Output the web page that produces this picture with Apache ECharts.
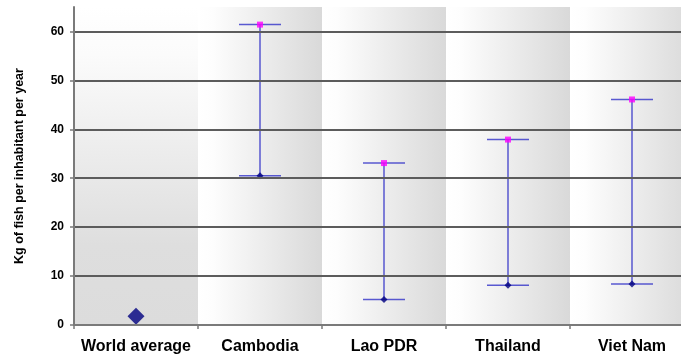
<!DOCTYPE html>
<html>
<head>
<meta charset="utf-8">
<script src="https://cdn.jsdelivr.net/npm/echarts@6/dist/echarts.min.js"></script>
<style>
  html, body { margin: 0; padding: 0; background: #ffffff; overflow: hidden; }
  #chart { width: 700px; height: 358px; }
</style>
</head>
<body>
<div id="chart"></div>
<script>
// Fish consumption per inhabitant (kg / year): world average and country ranges
const categories = ['World average', 'Cambodia', 'Lao PDR', 'Thailand', 'Viet Nam'];
const worldAverage = 1.8;
const lowValues  = [null, 30.5, 5.2, 8.1, 8.4];
const highValues = [null, 61.4, 33.1, 37.9, 46.1];
const yTicks = [0, 10, 20, 30, 40, 50, 60];
const yMax = 65;

const FONT = '"Liberation Sans", Arial, sans-serif';

const vertGradient = {
  type: 'linear', x: 0, y: 0, x2: 0, y2: 1,
  colorStops: [
    { offset: 0, color: '#ffffff' },
    { offset: 0.15, color: '#fbfbfb' },
    { offset: 0.75, color: '#dedede' },
    { offset: 1, color: '#dcdcdc' }
  ]
};
const horizGradient = {
  type: 'linear', x: 0, y: 0, x2: 1, y2: 0,
  colorStops: [
    { offset: 0, color: '#ffffff' },
    { offset: 0.12, color: '#fdfdfd' },
    { offset: 1, color: '#d9d9d9' }
  ]
};

const rangeData = [];
const lowPoints = [];
const highPoints = [];
categories.forEach((c, i) => {
  if (lowValues[i] != null && highValues[i] != null) {
    rangeData.push([i, lowValues[i], highValues[i]]);
    lowPoints.push([i, lowValues[i]]);
    highPoints.push([i, highValues[i]]);
  }
});

const chart = echarts.init(document.getElementById('chart'), null, { renderer: 'canvas' });

chart.setOption({
  animation: false,
  backgroundColor: '#ffffff',
  grid: { left: 74, top: 7, width: 620, height: 318, containLabel: false },
  xAxis: {
    type: 'category',
    data: categories,
    z: 5,
    axisLine: { lineStyle: { color: '#7a7a7a', width: 2 } },
    axisTick: { show: true, length: 4, lineStyle: { color: '#7a7a7a', width: 1.5 } },
    axisLabel: { interval: 0, color: '#000', fontSize: 16, fontWeight: 'bold', fontFamily: FONT, margin: 14 },
    splitLine: { show: false }
  },
  yAxis: {
    type: 'value',
    min: 0,
    max: yMax,
    interval: 10,
    z: 5,
    name: 'Kg of fish per inhabitant per year',
    nameLocation: 'middle',
    nameGap: 48,
    nameTextStyle: { color: '#000', fontSize: 12.5, fontWeight: 'bold', fontFamily: FONT },
    axisLine: { show: true, lineStyle: { color: '#7a7a7a', width: 2 } },
    axisTick: { show: true, length: 4, customValues: yTicks, lineStyle: { color: '#7a7a7a', width: 1.5 } },
    axisLabel: { customValues: yTicks, color: '#000', fontSize: 12, fontWeight: 'bold', fontFamily: FONT, margin: 10 },
    splitLine: { show: false }
  },
  series: [
    {
      // shaded category bands
      type: 'custom',
      z: 0,
      silent: true,
      data: categories.map((c, i) => [i, 0]),
      encode: { x: 0, y: 1 },
      renderItem: function (params, api) {
        const cs = params.coordSys;
        const idx = api.value(0);
        const cx = api.coord([idx, 0])[0];
        const w = api.size([1, 0])[0];
        return {
          type: 'rect',
          shape: { x: cx - w / 2, y: cs.y, width: w, height: cs.height },
          style: { fill: idx === 0 ? vertGradient : horizGradient }
        };
      }
    },
    {
      // horizontal grid lines
      type: 'line',
      z: 1,
      data: [],
      silent: true,
      markLine: {
        silent: true,
        symbol: 'none',
        label: { show: false },
        lineStyle: { color: '#5c5c5c', width: 2, type: 'solid' },
        data: yTicks.filter(v => v > 0).map(v => ({ yAxis: v }))
      }
    },
    {
      // range bars with caps
      type: 'custom',
      z: 3,
      silent: true,
      data: rangeData,
      encode: { x: 0, y: [1, 2] },
      renderItem: function (params, api) {
        const idx = api.value(0);
        const pLow = api.coord([idx, api.value(1)]);
        const pHigh = api.coord([idx, api.value(2)]);
        const half = 21;
        const style = { stroke: 'rgba(50,50,200,0.8)', lineWidth: 1.5 };
        return {
          type: 'group',
          children: [
            { type: 'line', shape: { x1: pLow[0], y1: pLow[1], x2: pHigh[0], y2: pHigh[1] }, style: style },
            { type: 'line', shape: { x1: pLow[0] - half, y1: pLow[1], x2: pLow[0] + half, y2: pLow[1] }, style: style },
            { type: 'line', shape: { x1: pHigh[0] - half, y1: pHigh[1], x2: pHigh[0] + half, y2: pHigh[1] }, style: style }
          ]
        };
      }
    },
    {
      type: 'scatter',
      z: 4,
      symbol: 'diamond',
      symbolSize: 7,
      itemStyle: { color: '#000080' },
      data: lowPoints
    },
    {
      type: 'scatter',
      z: 4,
      symbol: 'rect',
      symbolSize: 6,
      itemStyle: { color: '#ff00ff' },
      data: highPoints
    },
    {
      type: 'scatter',
      z: 4,
      symbol: 'diamond',
      symbolSize: 17,
      itemStyle: { color: '#000080' },
      data: [[0, worldAverage]]
    }
  ]
});
</script>
</body>
</html>
